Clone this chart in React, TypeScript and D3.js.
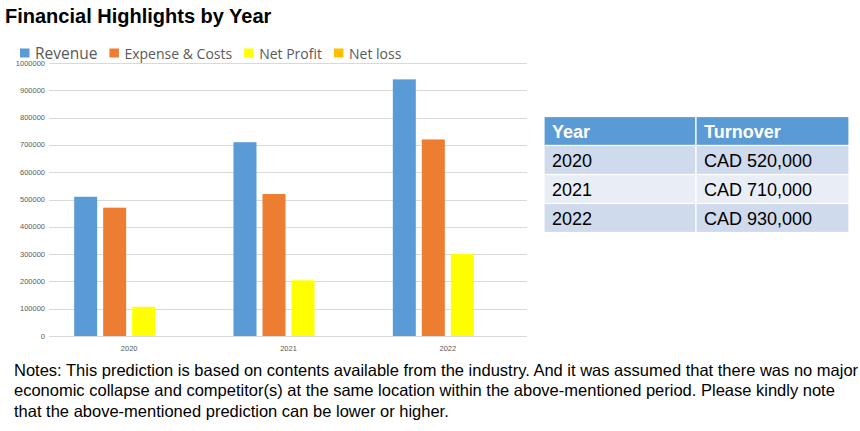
import React, { useRef, useEffect } from "react";
import { select, scaleLinear, scaleBand, range } from "d3";

const years = ["2020", "2021", "2022"];
const seriesNames = ["Revenue", "Expense & Costs", "Net Profit", "Net loss"];
const seriesColors = ["#5B9BD5", "#ED7D31", "#FFFF00", "#FFC000"];
const revenue = [510000, 710000, 940000];
const expenses = [470000, 520000, 720000];
const netProfit = [107000, 204000, 300000];
const netLoss = [0, 0, 0];
const yTicks = [0, 100000, 200000, 300000, 400000, 500000, 600000, 700000, 800000, 900000, 1000000];
const tableHeader = ["Year", "Turnover"];
const turnover = ["CAD 520,000", "CAD 710,000", "CAD 930,000"];
const notes = [
  "Notes: This prediction is based on contents available from the industry. And it was assumed that there was no major",
  "economic collapse and competitor(s) at the same location within the above-mentioned period. Please kindly note",
  "that the above-mentioned prediction can be lower or higher.",
];

const W = 860;
const H = 431;

export default function App() {
  const svgRef = useRef<SVGSVGElement>(null);

  useEffect(() => {
    const svg = select(svgRef.current);
    svg.selectAll("*").remove();
    const values = [revenue, expenses, netProfit, netLoss];

    // title
    svg
      .append("text")
      .attr("x", 5)
      .attr("y", 23)
      .attr("font-family", "Liberation Sans, Arial, sans-serif")
      .attr("font-weight", "bold")
      .attr("font-size", 20)
      .attr("fill", "#000")
      .text("Financial Highlights by Year");

    // scales
    const y = scaleLinear().domain([0, 1000000]).range([336, 63]);
    const x0 = scaleBand<string>().domain(years).range([49.5, 527.5]);
    const x1 = scaleBand<number>()
      .domain(range(seriesNames.length))
      .range([0, x0.bandwidth()])
      .paddingInner(0.207)
      .paddingOuter(0.85);

    // grid
    svg
      .append("g")
      .selectAll("line")
      .data(yTicks)
      .join("line")
      .attr("x1", 49)
      .attr("x2", 527)
      .attr("y1", (d) => Math.round(y(d)) + 0.5)
      .attr("y2", (d) => Math.round(y(d)) + 0.5)
      .attr("stroke", "#D9D9D9")
      .attr("stroke-width", 1);

    svg
      .append("g")
      .selectAll("text")
      .data(yTicks)
      .join("text")
      .attr("x", 45)
      .attr("y", (d) => y(d) + 2.5)
      .attr("text-anchor", "end")
      .attr("font-family", "Liberation Sans, Arial, sans-serif")
      .attr("font-size", 7.5)
      .attr("fill", "#595959")
      .text((d) => String(d));

    // bars
    const groups = svg
      .append("g")
      .selectAll("g")
      .data(years)
      .join("g")
      .attr("transform", (d) => `translate(${x0(d)},0)`);

    groups
      .selectAll("rect")
      .data((_, i) => values.map((v, s) => ({ s, v: v[i] })))
      .join("rect")
      .attr("x", (d) => x1(d.s)!)
      .attr("width", x1.bandwidth())
      .attr("y", (d) => y(d.v))
      .attr("height", (d) => y(0) - y(d.v))
      .attr("fill", (d) => seriesColors[d.s]);

    svg
      .append("g")
      .selectAll("text")
      .data(years)
      .join("text")
      .attr("x", (d) => x0(d)! + x0.bandwidth() / 2)
      .attr("y", 351)
      .attr("text-anchor", "middle")
      .attr("font-family", "Liberation Sans, Arial, sans-serif")
      .attr("font-size", 7.5)
      .attr("fill", "#595959")
      .text((d) => d);

    // legend
    const legend = svg.append("g");
    let lx = 20;
    seriesNames.forEach((name, i) => {
      legend
        .append("rect")
        .attr("x", lx)
        .attr("y", 48.5)
        .attr("width", 9.5)
        .attr("height", 9)
        .attr("fill", seriesColors[i]);
      const t = legend
        .append("text")
        .attr("x", lx + 15)
        .attr("y", 59)
        .attr("font-family", "Open Sans, sans-serif")
        .attr("font-size", i === 0 ? 15.5 : 14)
        .attr("fill", "#595959")
        .text(name);
      const w = (t.node() as SVGTextElement).getComputedTextLength();
      lx += 15 + w + 12;
    });

    // table
    const tx = [544, 696, 849];
    const rowTop = 116.5;
    const rowH = 29;
    const table = svg.append("g").attr("font-family", "Liberation Sans, Arial, sans-serif");
    const rows = [tableHeader, ...years.map((yr, i) => [yr, turnover[i]])];
    const fills = ["#5B9BD5", "#CFDAEC", "#E9EEF6", "#CFDAEC"];
    rows.forEach((row, r) => {
      row.forEach((cell, c) => {
        table
          .append("rect")
          .attr("x", tx[c])
          .attr("y", rowTop + r * rowH)
          .attr("width", tx[c + 1] - tx[c])
          .attr("height", rowH)
          .attr("fill", fills[r])
          .attr("stroke", "#fff")
          .attr("stroke-width", 1.2);
        table
          .append("text")
          .attr("x", tx[c] + 8)
          .attr("y", rowTop + r * rowH + 21)
          .attr("font-size", 18)
          .attr("font-weight", r === 0 ? "bold" : "normal")
          .attr("fill", r === 0 ? "#fff" : "#000")
          .text(cell);
      });
    });

    // notes
    svg
      .append("g")
      .selectAll("text")
      .data(notes)
      .join("text")
      .attr("x", 14)
      .attr("y", (_, i) => 375.5 + i * 20.5)
      .attr("font-family", "Liberation Sans, Arial, sans-serif")
      .attr("font-size", 16.5)
      .attr("fill", "#000")
      .text((d) => d);
  }, []);

  return (
    <svg
      ref={svgRef}
      width={W}
      height={H}
      style={{ position: "absolute", left: 0, top: 0, background: "#fff" }}
    />
  );
}
